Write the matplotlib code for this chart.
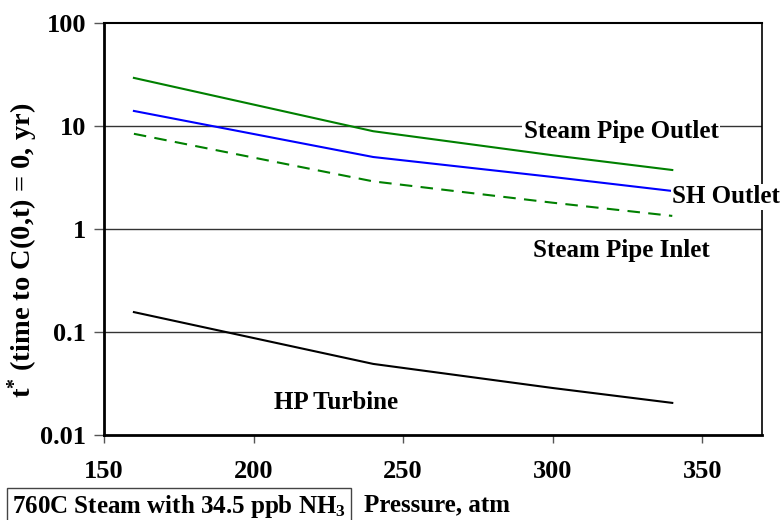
import matplotlib
matplotlib.use("Agg")
from matplotlib import pyplot as plt

pressure = [160, 240, 300, 340]
steam_pipe_outlet = [29.3, 8.9, 5.2, 3.74]
sh_outlet = [14.0, 5.0, 3.2, 2.34]
steam_pipe_inlet = [8.4, 2.9, 1.8, 1.34]
hp_turbine = [0.156, 0.049, 0.0286, 0.0205]

plt.rcParams["font.family"] = ["Liberation Serif", "DejaVu Serif"]
plt.rcParams["font.weight"] = "bold"
plt.rcParams["mathtext.fontset"] = "custom"
plt.rcParams["mathtext.rm"] = "Liberation Serif:bold"
plt.rcParams["mathtext.default"] = "rm"

fig = plt.figure(figsize=(7.82, 5.2), dpi=100)
ax = fig.add_axes([104 / 782, 1 - 435 / 520, 658 / 782, 412 / 520])

ax.set_yscale("log")
ax.set(xlim=(150, 370), ylim=(0.01, 100))
for y in [0.1, 1, 10]:
    ax.axhline(y, color="#333333", lw=1, zorder=0)

ax.plot(pressure, steam_pipe_outlet, color="#008000", lw=1.5)
ax.plot(pressure, sh_outlet, color="#0000ff", lw=1.5)
ax.plot(pressure, steam_pipe_inlet, color="#008000", lw=1.5, ls=(0, (6, 4)))
ax.plot(pressure, hp_turbine, color="black", lw=1.5)

ax.set_xticks([150, 200, 250, 300, 350])
ax.set_yticks([0.01, 0.1, 1, 10, 100])
ax.set_yticklabels(["0.01", "0.1", "1", "10", "100"])
ax.minorticks_off()
ax.tick_params(axis="both", direction="out", labelsize=19, width=1, color="#555555")
ax.tick_params(axis="y", length=7, pad=6)
ax.tick_params(axis="x", length=6, pad=12)
for lab in ax.get_xticklabels() + ax.get_yticklabels():
    lab.set_fontweight("bold")

ax.spines["left"].set_linewidth(2)
ax.spines["bottom"].set_linewidth(2)
ax.spines["top"].set_linewidth(1.5)
ax.spines["right"].set_linewidth(1.2)

ax.set_ylabel("t$^{*}$ (time to C(0,t) = 0, yr)", fontsize=20.5, fontweight="bold")
ax.yaxis.set_label_coords(-0.098, 0.449)

box = dict(facecolor="white", edgecolor="none", pad=1)
ax.text(323, 8.9, "Steam Pipe Outlet", fontsize=18, fontweight="bold",
        ha="center", va="center", bbox=box)
ax.text(358, 2.05, "SH Outlet", fontsize=18, fontweight="bold",
        ha="center", va="center", bbox=box, clip_on=False)
ax.text(323, 0.625, "Steam Pipe Inlet", fontsize=18, fontweight="bold",
        ha="center", va="center")
ax.text(227.5, 0.0209, "HP Turbine", fontsize=18, fontweight="bold",
        ha="center", va="center")

fig.text(12 / 782, 1 - 507 / 520, "760C Steam with 34.5 ppb NH$_3$", fontsize=18,
         fontweight="bold", ha="left", va="center",
         bbox=dict(facecolor="white", edgecolor="#444444", lw=1, pad=4))
fig.text(364 / 782, 1 - 505 / 520, "Pressure, atm", fontsize=18,
         fontweight="bold", ha="left", va="center")

fig.savefig("out.png", dpi=100)
